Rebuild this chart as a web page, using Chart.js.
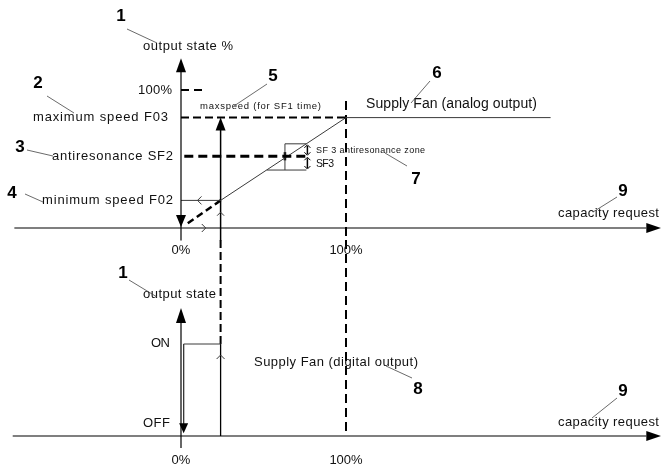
<!DOCTYPE html>
<html><head><meta charset="utf-8">
<script src="https://cdn.jsdelivr.net/npm/chart.js@4"></script>
<style>html,body{margin:0;padding:0;background:#fff;overflow:hidden}canvas{display:block}</style>
</head><body><canvas id="c" width="661" height="470"></canvas>
<script>
// ---- data (capacity request %, output state %) ----
const capacityTicks = ["0%", "100%"];
const capacityTickValues = [0, 100];
const outputTickLabel = "100%";
const outputTickValue = 100;
const levelNames = ["maximum speed F03", "antiresonance SF2", "minimum speed F02"];
const levelValues = [80, 52, 20];
const startCapacity = 24;          // capacity where supply fan starts
const fullCapacity = 100;
const rampCapacity = [24, 100, 224];
const rampOutput = [20, 80, 80];
const zoneOutput = [42, 61];      // antiresonance zone SF2 -/+ SF3
const zoneCapacity = [52, 63, 76];
const digitalStates = ["OFF", "ON"];
const digitalValues = [0, 1];

const [F03, SF2, F02] = levelValues;
const K = '#000', G = '#3a3a3a';
function seg(pts, o = {}) {
  return Object.assign({
    data: pts, showLine: true, pointRadius: 0, borderColor: K, borderWidth: 1.2,
    tension: 0, fill: false, yAxisID: 'y', borderCapStyle: 'butt'
  }, o);
}
const P = (x, y) => ({ x, y });
const AXEND = 282;
const datasets = [
  // top panel axes
  seg([P(-101, 0), P(AXEND, 0)]),
  seg([P(0, -9), P(0, 115)]),
  // 100% tick dash
  seg([P(0, outputTickValue), P(13, outputTickValue)], { borderDash: [8, 5], borderWidth: 2 }),
  // max speed F03
  seg([P(0, F03), P(fullCapacity, F03)], { borderDash: [8, 4], borderWidth: 2 }),
  // antiresonance SF2
  seg([P(2, SF2), P(zoneCapacity[2], SF2)], { borderDash: [9, 5], borderWidth: 3 }),
  // min speed F02
  seg([P(0, F02), P(startCapacity, F02)], { borderColor: G, borderWidth: 1 }),
  // ramp + saturation
  seg(rampCapacity.map((c, i) => P(c, rampOutput[i])), { borderColor: G, borderWidth: 1 }),
  // antiresonance zone box
  seg([P(zoneCapacity[0], zoneOutput[0]), P(zoneCapacity[2], zoneOutput[0])], { borderColor: G, borderWidth: 1 }),
  seg([P(zoneCapacity[1], zoneOutput[0]), P(zoneCapacity[1], zoneOutput[1]), P(zoneCapacity[2], zoneOutput[1])], { borderColor: G, borderWidth: 1 }),
  seg([P(zoneCapacity[1], SF2 - 3), P(zoneCapacity[1], SF2 + 3)], { borderWidth: 2.5 }),
  // start vertical
  seg([P(startCapacity, -9), P(startCapacity, F03 - 8)], { borderWidth: 1.5 }),
  // shut-off dashed diagonal
  seg([P(startCapacity, F02), P(3, 2.5)], { borderDash: [7, 4], borderWidth: 2.5 }),
  // 100% dashed vertical (top)
  seg([P(fullCapacity, 92), P(fullCapacity, -9)], { borderDash: [9, 5], borderWidth: 2 }),
  // bottom panel
  seg([P(-102, 0), P(AXEND, 0)], { yAxisID: 'yD' }),
  seg([P(0, -0.13), P(0, 1.3)], { yAxisID: 'yD' }),
  seg([P(startCapacity, digitalValues[1]), P(1.6, digitalValues[1]), P(1.6, 0.12)], { yAxisID: 'yD', borderColor: G, borderWidth: 1 }),
  seg([P(startCapacity, 0), P(startCapacity, digitalValues[1])], { yAxisID: 'yD', borderWidth: 1.3 }),
  seg([P(startCapacity, digitalValues[1]), P(startCapacity, 2.13)], { yAxisID: 'yD', borderDash: [8, 4], borderWidth: 2 }),
  seg([P(fullCapacity, 2.13), P(fullCapacity, 0)], { yAxisID: 'yD', borderDash: [9, 5], borderWidth: 2 }),
];

function tri(ctx, x, y, dir, len, hw) {
  ctx.beginPath();
  if (dir === 'up') { ctx.moveTo(x, y); ctx.lineTo(x - hw, y + len); ctx.lineTo(x + hw, y + len); }
  if (dir === 'down') { ctx.moveTo(x, y); ctx.lineTo(x - hw, y - len); ctx.lineTo(x + hw, y - len); }
  if (dir === 'right') { ctx.moveTo(x, y); ctx.lineTo(x - len, y - hw); ctx.lineTo(x - len, y + hw); }
  ctx.closePath(); ctx.fill();
}
function chev(ctx, x, y, dir, s) {
  ctx.beginPath();
  if (dir === 'left') { ctx.moveTo(x + s, y - s); ctx.lineTo(x, y); ctx.lineTo(x + s, y + s); }
  if (dir === 'right') { ctx.moveTo(x - s, y - s); ctx.lineTo(x, y); ctx.lineTo(x - s, y + s); }
  if (dir === 'up') { ctx.moveTo(x - s, y + s); ctx.lineTo(x, y); ctx.lineTo(x + s, y + s); }
  if (dir === 'down') { ctx.moveTo(x - s, y - s); ctx.lineTo(x, y); ctx.lineTo(x + s, y - s); }
  ctx.stroke();
}
function fitText(ctx, text, x1, x2, y, font) {
  ctx.font = font;
  ctx.letterSpacing = '0px';
  const w = ctx.measureText(text).width;
  const n = Math.max(1, text.length - 1);
  ctx.letterSpacing = ((x2 - x1 - w) / n).toFixed(2) + 'px';
  ctx.textAlign = 'left';
  ctx.fillText(text, x1, y);
  ctx.letterSpacing = '0px';
}
function line(ctx, a, b, c, d) { ctx.beginPath(); ctx.moveTo(a, b); ctx.lineTo(c, d); ctx.stroke(); }

const FT = "'Liberation Sans', Arial, sans-serif";
const decor = {
  id: 'decor',
  afterDatasetsDraw(chart) {
    const { ctx, scales } = chart;
    const X = v => scales.x.getPixelForValue(v);
    const Y = v => scales.y.getPixelForValue(v);
    const D = v => scales.yD.getPixelForValue(v);
    ctx.save();
    ctx.fillStyle = '#000'; ctx.strokeStyle = '#000';
    // filled arrowheads
    tri(ctx, X(AXEND) + 15, Y(0), 'right', 15, 5);
    tri(ctx, X(AXEND) + 15, D(0), 'right', 15, 5);
    tri(ctx, X(0), Y(123), 'up', 14, 5);
    tri(ctx, X(0), Y(0.7), 'down', 12, 5);
    tri(ctx, X(startCapacity), Y(F03), 'up', 13, 5);
    tri(ctx, X(0), D(1.39), 'up', 15, 5);
    tri(ctx, X(1.6), D(0.03), 'down', 10, 4.5);
    // open chevrons
    ctx.lineWidth = 1; ctx.strokeStyle = G;
    chev(ctx, X(10), Y(F02), 'left', 4);
    chev(ctx, X(15), Y(0), 'right', 4);
    chev(ctx, X(startCapacity), Y(10) - 2, 'up', 3.5);
    chev(ctx, X(startCapacity), D(0.88), 'up', 4);
    // SF3 dimension arrows
    const zx = X(zoneCapacity[2]) + 1;
    ctx.lineWidth = 1.5; ctx.strokeStyle = '#000';
    line(ctx, zx, Y(zoneOutput[1]) + 2, zx, Y(SF2) - 2);
    line(ctx, zx, Y(SF2) + 2, zx, Y(zoneOutput[0]) - 2);
    ctx.lineWidth = 1;
    chev(ctx, zx, Y(zoneOutput[1]) + 1, 'up', 3);
    chev(ctx, zx, Y(SF2) - 1, 'down', 3);
    chev(ctx, zx, Y(SF2) + 1, 'up', 3);
    chev(ctx, zx, Y(zoneOutput[0]) - 1, 'down', 3);

    // texts
    ctx.fillStyle = '#111';
    ctx.textBaseline = 'middle';
    const f11 = '13px ' + FT, f9 = '9.5px ' + FT;
    fitText(ctx, 'output state %', 143, 233, 46, f11);
    fitText(ctx, outputTickLabel, 138, 172, Y(outputTickValue), f11);
    const lx = [[33, 168], [52, 173], [42, 173]];
    levelNames.forEach((t, i) => fitText(ctx, t, lx[i][0], lx[i][1], Y(levelValues[i]), f11));
    fitText(ctx, 'maxspeed (for SF1 time)', 200, 321, 106, f9);
    fitText(ctx, 'Supply Fan (analog output)', 366, 537, 104, '14px ' + FT);
    fitText(ctx, 'SF 3 antiresonance zone', 316, 425, 151, '9px ' + FT);
    fitText(ctx, 'SF3', 316, 334, 164, '10.5px ' + FT);
    fitText(ctx, 'capacity request', 558, 659, 213, f11);
    fitText(ctx, 'output state', 143, 216, 294, f11);
    fitText(ctx, digitalStates[1], 151, 170, D(digitalValues[1]) - 1, f11);
    fitText(ctx, digitalStates[0], 143, 170, 423, f11);
    fitText(ctx, 'Supply Fan (digital output)', 254, 418, 362, f11);
    fitText(ctx, 'capacity request', 558, 659, 422, f11);
    ctx.font = f11; ctx.textAlign = 'center';
    capacityTicks.forEach((t, i) => {
      ctx.fillText(t, X(capacityTickValues[i]), 250);
      ctx.fillText(t, X(capacityTickValues[i]), 460);
    });
    // callout numbers
    ctx.font = 'bold 17px ' + FT; ctx.fillStyle = '#000';
    const nums = [['1', 121, 16], ['2', 38, 83], ['3', 20, 147], ['4', 12, 193], ['5', 273, 76],
      ['6', 437, 73], ['7', 416, 179], ['9', 623, 191], ['1', 123, 273], ['8', 418, 389], ['9', 623, 391]];
    nums.forEach(([t, x, y]) => ctx.fillText(t, x, y));
    // leader lines
    ctx.strokeStyle = '#444'; ctx.lineWidth = 0.8;
    [[127, 29, 157, 43], [47, 96, 74, 113], [27, 150, 53, 156], [25, 194, 43, 202], [267, 84, 234, 106],
     [430, 81, 411, 103], [407, 166, 385, 153], [617, 197, 593, 212], [129, 280, 157, 297],
     [412, 378, 386, 366], [617, 398, 592, 418]].forEach(l => line(ctx, ...l));
    ctx.restore();
  }
};

new Chart(document.getElementById('c'), {
  type: 'scatter',
  data: { datasets },
  options: {
    responsive: false, animation: false, devicePixelRatio: 1,
    layout: { padding: 0 },
    plugins: { legend: { display: false }, tooltip: { enabled: false } },
    scales: {
      x: { type: 'linear', display: false, min: -181 / 1.65, max: 480 / 1.65 },
      y: { type: 'linear', display: false, min: -242 / 1.38, max: 228 / 1.38 },
      yD: { type: 'linear', display: false, min: -34 / 92, max: 436 / 92 }
    }
  },
  plugins: [decor]
});
</script>
</body></html>
